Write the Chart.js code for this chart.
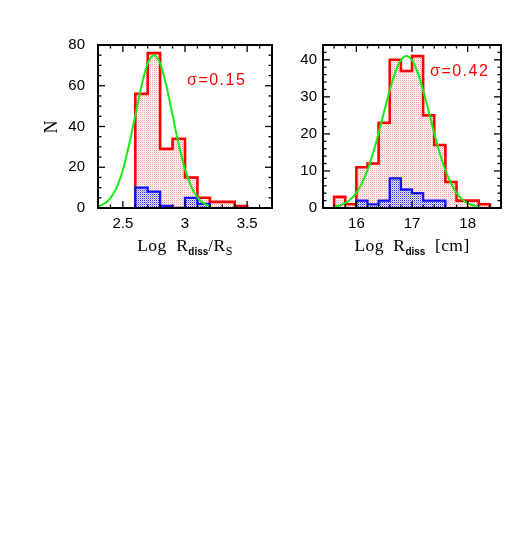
<!DOCTYPE html>
<html><head><meta charset="utf-8">
<script src="https://cdn.jsdelivr.net/npm/chart.js@4"></script>
<style>
html,body{margin:0;padding:0;background:#fff;}
#wrap{position:relative;width:529px;height:534px;overflow:hidden;background:#fff;}
#c1{position:absolute;left:0;top:0;}
#c2{position:absolute;left:280px;top:0;}
.xt{position:absolute;font-family:"Liberation Serif","Times New Roman",serif;font-size:17.5px;line-height:18px;color:#000;white-space:nowrap;text-align:center;letter-spacing:0.4px;}
.sb{font-family:"Liberation Sans",Arial,sans-serif;font-weight:bold;font-size:10px;position:relative;top:4px;letter-spacing:0;}
.ss{font-size:12px;position:relative;top:4px;}
.yt{position:absolute;font-family:"Liberation Serif","Times New Roman",serif;font-size:18px;line-height:18px;transform:rotate(-90deg);transform-origin:center center;}
.sig{position:absolute;color:#f00;font-family:"Liberation Sans",Arial,sans-serif;font-size:16px;letter-spacing:1.5px;line-height:18px;white-space:nowrap;}
</style></head>
<body>
<div id="wrap">
<canvas id="c1" width="280" height="260"></canvas>
<canvas id="c2" width="249" height="260"></canvas>
<div class="yt" style="left:43px;top:118px;width:16px;text-align:center;">N</div>
<div class="xt" style="left:98px;top:236px;width:174px;">Log&nbsp; R<span class="sb">diss</span>/R<span class="ss">S</span></div>
<div class="xt" style="left:323px;top:236px;width:178px;">Log&nbsp; R<span class="sb">diss</span>&nbsp; [cm]</div>
<div class="sig" style="left:187px;top:71px;">σ=0.15</div>
<div class="sig" style="left:430px;top:62px;">σ=0.42</div>
</div>
<script>
// ---------- Left panel: Log R_diss / R_S ----------
const binEdgesL = [2.6, 2.7, 2.8, 2.9, 3.0, 3.1, 3.2, 3.3, 3.4, 3.5];
const countsAllL = [56, 76, 29, 34, 15, 5, 3, 3, 1];
const subEdgesL = [2.6, 2.7, 2.8, 2.9, 3.0, 3.1, 3.2];
const countsSubL = [10, 8, 1, 0, 5, 2];
const fitXL = [2.30, 2.35, 2.40, 2.45, 2.50, 2.55, 2.60, 2.65, 2.70, 2.75, 2.80, 2.85, 2.90, 2.95, 3.00, 3.05, 3.10, 3.15, 3.20];
const fitYL = [0.8, 2.1, 4.9, 10, 18.5, 31, 45.5, 60, 71, 75, 71, 60, 45.5, 31, 19, 10.5, 5.2, 2.3, 0.9];
const xTicksL = [2.5, 3, 3.5];
const yTicksL = [0, 20, 40, 60, 80];

// ---------- Right panel: Log R_diss [cm] ----------
const binEdgesR = [15.6, 15.8, 16.0, 16.2, 16.4, 16.6, 16.8, 17.0, 17.2, 17.4, 17.6, 17.8, 18.0, 18.2, 18.4];
const countsAllR = [3, 1, 11, 12, 23, 40, 37, 41, 25, 17, 7, 2, 2, 1];
const subEdgesR = [16.0, 16.2, 16.4, 16.6, 16.8, 17.0, 17.2, 17.4, 17.6];
const countsSubR = [2, 1, 2, 8, 5, 4, 2, 2];
const fitXR = [15.6, 15.7, 15.8, 15.9, 16.0, 16.1, 16.2, 16.3, 16.4, 16.5, 16.6, 16.7, 16.8, 16.9, 17.0, 17.1, 17.2, 17.3, 17.4, 17.5, 17.6, 17.7, 17.8, 17.9, 18.0, 18.1, 18.2];
const fitYR = [0.3, 0.7, 1.3, 2.4, 4.1, 6.7, 10.2, 14.8, 20.2, 26.1, 31.8, 36.6, 39.9, 41, 39.9, 36.6, 31.8, 26.1, 20.2, 14.8, 10.2, 6.7, 4.1, 2.4, 1.3, 0.7, 0.3];
const xTicksR = [16, 17, 18];
const yTicksR = [0, 10, 20, 30, 40];

function stepPoints(edges, counts){
  const pts = [{x: edges[0], y: 0}];
  for (let i = 0; i < counts.length; i++) pts.push({x: edges[i], y: counts[i]});
  pts.push({x: edges[edges.length - 1], y: 0});
  return pts;
}
function curvePoints(xs, ys){ return xs.map((v, i) => ({x: v, y: ys[i]})); }

function makePattern(bg, d1, d2){
  const c = document.createElement('canvas'); c.width = 2; c.height = 2;
  const g = c.getContext('2d');
  g.fillStyle = bg; g.fillRect(0, 0, 2, 2);
  g.fillStyle = d1; g.fillRect(0, 0, 1, 1);
  g.fillStyle = d2; g.fillRect(1, 1, 1, 1);
  return g.createPattern(c, 'repeat');
}
const redFill = makePattern('#ffffff', '#f39a9a', '#fcdcdc');
const blueFill = makePattern('#f0eaf4', '#2a2ad8', '#a4a4ea');

const framePlugin = {
  id: 'frame',
  afterDatasetsDraw(chart, args, o){
    const ctx = chart.ctx, a = chart.chartArea, xs = chart.scales.x, ys = chart.scales.y;
    ctx.save();
    ctx.strokeStyle = '#000';
    ctx.lineWidth = 1.3;
    const seg = (x1, y1, x2, y2) => { ctx.beginPath(); ctx.moveTo(x1, y1); ctx.lineTo(x2, y2); ctx.stroke(); };
    const near = (v, arr) => arr.some(t => Math.abs(t - v) < 1e-6);
    for (let k = Math.ceil(xs.min / o.xMinor - 1e-9); k * o.xMinor <= xs.max + 1e-9; k++) {
      const v = +(k * o.xMinor).toFixed(6);
      const len = near(v, o.xMajor) ? 7 : 3.5;
      const p = xs.getPixelForValue(v);
      seg(p, a.bottom, p, a.bottom - len);
      seg(p, a.top, p, a.top + len);
    }
    for (let k = Math.ceil(ys.min / o.yMinor - 1e-9); k * o.yMinor <= ys.max + 1e-9; k++) {
      const v = +(k * o.yMinor).toFixed(6);
      const len = near(v, o.yMajor) ? 7 : 3.5;
      const p = ys.getPixelForValue(v);
      seg(a.left, p, a.left + len, p);
      seg(a.right, p, a.right - len, p);
    }
    ctx.lineWidth = 2;
    ctx.strokeRect(a.left, a.top, a.right - a.left, a.bottom - a.top);
    ctx.restore();
  }
};

function build(canvasId, p){
  return new Chart(document.getElementById(canvasId), {
    type: 'line',
    data: {
      datasets: [
        {data: curvePoints(p.fitX, p.fitY), borderColor: '#11ee11', borderWidth: 2, pointRadius: 0, fill: false, cubicInterpolationMode: 'monotone', order: 0},
        {data: stepPoints(p.subEdges, p.sub), borderColor: '#1010ff', borderWidth: 2.3, pointRadius: 0, stepped: 'before', fill: 'origin', backgroundColor: blueFill, order: 1},
        {data: stepPoints(p.edges, p.all), borderColor: '#ff0000', borderWidth: 2.6, pointRadius: 0, stepped: 'before', fill: 'origin', backgroundColor: redFill, order: 2}
      ]
    },
    options: {
      responsive: false, animation: false,
      layout: {padding: {left: 0, top: 45, right: p.padRight, bottom: 0}},
      plugins: {legend: {display: false}, tooltip: {enabled: false}, frame: p.frame},
      scales: {
        x: {type: 'linear', min: p.xmin, max: p.xmax,
            grid: {display: false, drawTicks: false}, border: {display: false},
            afterBuildTicks: s => { s.ticks = p.xTicks.map(v => ({value: v})); },
            afterFit: s => { s.height = 52; },
            ticks: {padding: 7, color: '#000', font: {family: '"Liberation Sans", Arial, sans-serif', size: 15}, callback: v => String(v)}},
        y: {type: 'linear', min: 0, max: p.ymax,
            grid: {display: false, drawTicks: false}, border: {display: false},
            afterBuildTicks: s => { s.ticks = p.yTicks.map(v => ({value: v})); },
            afterFit: s => { s.width = p.yWidth; },
            ticks: {padding: p.yPad, color: '#000', font: {family: '"Liberation Sans", Arial, sans-serif', size: 15}, callback: v => String(v)}}
      }
    },
    plugins: [framePlugin]
  });
}

build('c1', {edges: binEdgesL, all: countsAllL, subEdges: subEdgesL, sub: countsSubL, fitX: fitXL, fitY: fitYL,
  xTicks: xTicksL, yTicks: yTicksL, xmin: 2.3, xmax: 3.7, ymax: 80, yWidth: 98, yPad: 13, padRight: 8,
  frame: {xMinor: 0.1, xMajor: xTicksL, yMinor: 5, yMajor: yTicksL}});
build('c2', {edges: binEdgesR, all: countsAllR, subEdges: subEdgesR, sub: countsSubR, fitX: fitXR, fitY: fitYR,
  xTicks: xTicksR, yTicks: yTicksR, xmin: 15.4, xmax: 18.6, ymax: 44, yWidth: 43, yPad: 6, padRight: 28,
  frame: {xMinor: 0.2, xMajor: xTicksR, yMinor: 2, yMajor: yTicksR}});
</script>
</body></html>
